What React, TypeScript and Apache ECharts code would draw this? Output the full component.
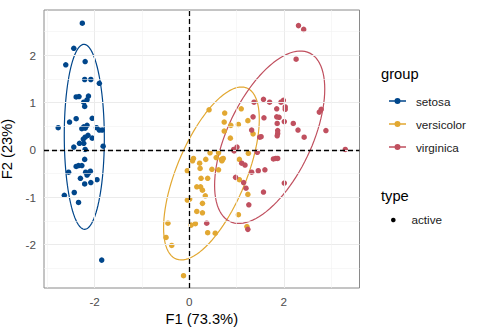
import React, { useEffect, useRef } from "react";
import * as echarts from "echarts";

const groupNames = ["setosa", "versicolor", "virginica"];
const groupColors = ["#00468B", "#E2A832", "#C0505F"];

const setosaPts: number[][] = [
  [-2.26, 2.68], [-2.44, 2.15], [-2.61, 1.8], [-2.2, 1.87], [-2.21, 1.49], [-2.08, 1.49],
  [-1.9, 1.41], [-2.39, 1.12], [-2.33, 1.13], [-2.13, 1.14], [-2.16, 1.06], [-2.23, 1.01],
  [-2.21, 0.92], [-2.53, 0.59], [-2.39, 0.66], [-2.05, 0.67], [-2.77, 0.47], [-2.16, 0.52],
  [-2.23, 0.49], [-2.27, 0.45], [-1.96, 0.47], [-1.9, 0.42], [-1.84, 0.42], [-2.14, 0.31],
  [-2.2, 0.27], [-2.24, 0.23], [-2.05, 0.25], [-2.32, 0.14], [-2.23, 0.14], [-2.44, 0.06],
  [-2.2, 0.01], [-1.82, 0.08], [-2.21, -0.2], [-2.39, -0.35], [-2.34, -0.33], [-2.27, -0.33],
  [-2.55, -0.47], [-2.19, -0.47], [-2.13, -0.49], [-2.09, -0.45], [-2.16, -0.53], [-2.3, -0.6],
  [-2.08, -0.69], [-1.95, -0.63], [-2.21, -0.72], [-2.64, -0.96], [-2.43, -0.9], [-2.34, -1.11],
  [-1.85, -2.33], [-2.2, 0.46],
];

const versicolorPts: number[][] = [
  [0.42, 0.85], [0.75, 0.78], [1.1, 0.87], [0.74, 0.59], [0.88, 0.52], [1.04, 0.54],
  [1.24, 0.62], [0.74, 0.4], [0.87, 0.25], [1.35, 0.34], [0.44, -0.06], [0.62, -0.06],
  [1.25, -0.07], [0.09, -0.18], [0.07, -0.23], [0.22, -0.28], [0.35, -0.2], [0.57, -0.16],
  [0.68, -0.2], [0.72, -0.18], [0.69, -0.23], [1.06, -0.2], [0.23, -0.39], [-0.04, -0.44],
  [0.48, -0.41], [0.62, -0.42], [0.25, -0.6], [0.39, -0.6], [1.06, -0.63], [0.16, -0.78],
  [0.24, -0.78], [0.28, -0.85], [0.34, -0.97], [-0.04, -1.06], [0.01, -1.04], [0.28, -1.13],
  [1.24, -0.94], [0.16, -1.3], [0.28, -1.33], [1.04, -1.37], [-0.45, -1.55], [0.04, -1.59],
  [0.13, -1.56], [0.39, -1.75], [0.55, -1.76], [1.22, -1.62], [-0.49, -1.85], [-0.37, -2.02],
  [-0.12, -2.66], [0.7, -0.21],
];

const virginicaPts: number[][] = [
  [2.31, 2.63], [2.42, 2.55], [2.26, 1.92], [1.37, 1.01], [1.57, 1.07], [1.7, 1.01],
  [1.85, 0.87], [1.94, 1.01], [1.99, 1.05], [2.03, 0.91], [2.03, 0.86], [2.79, 0.86],
  [2.75, 0.8], [1.35, 0.7], [1.58, 0.68], [1.85, 0.7], [1.9, 0.69], [1.86, 0.56],
  [2.01, 0.6], [2.2, 0.56], [1.32, 0.42], [1.87, 0.41], [1.87, 0.35], [1.86, 0.3],
  [2.3, 0.42], [2.89, 0.41], [1.49, 0.27], [1.52, 0.28], [2.43, 0.27], [0.94, 0.01],
  [1.01, 0.06], [0.95, -0.02], [1.44, -0.05], [3.3, 0.01], [1.78, -0.19], [1.83, -0.18],
  [1.87, -0.18], [1.11, -0.28], [1.18, -0.32], [1.32, -0.47], [1.46, -0.44], [1.6, -0.42],
  [0.98, -0.58], [1.15, -0.69], [2.01, -0.7], [1.2, -0.81], [1.57, -0.89], [1.26, -1.16],
  [1.24, -1.68], [0.37, -1.55],
];

const xTicks = [-2, 0, 2];
const yTicks = [-2, -1, 0, 1, 2];
const xMinorGrid = [-3, -1, 1, 3];
const yMinorGrid = [-2.5, -1.5, -0.5, 0.5, 1.5, 2.5];
const xAxisTitle = "F1 (73.3%)";
const yAxisTitle = "F2 (23%)";
const legendTitle = "group";
const typeTitle = "type";
const typeLabel = "active";

// robust multivariate-t covariance (as MASS::cov.trob, nu = 5)
function covTrob(pts: number[][], nu = 5, maxit = 25, tol = 0.01) {
  const n = pts.length;
  const p = 2;
  let loc = [pts.reduce((s, q) => s + q[0], 0) / n, pts.reduce((s, q) => s + q[1], 0) / n];
  let w = pts.map(() => 1);
  let cov = [0, 0, 0];
  for (let it = 0; it < maxit; it++) {
    const w0 = w.slice();
    const X = pts.map((q) => [q[0] - loc[0], q[1] - loc[1]]);
    const sw = w.reduce((s, v) => s + v, 0);
    let a = 0, b = 0, c = 0;
    X.forEach((v, i) => {
      a += (w[i] / sw) * v[0] * v[0];
      b += (w[i] / sw) * v[0] * v[1];
      c += (w[i] / sw) * v[1] * v[1];
    });
    const det = a * c - b * b;
    const ia = c / det, ib = -b / det, ic = a / det;
    w = X.map((v) => {
      const Q = v[0] * v[0] * ia + 2 * v[0] * v[1] * ib + v[1] * v[1] * ic;
      return (nu + p) / (nu + Q);
    });
    const sw2 = w.reduce((s, v) => s + v, 0);
    const newLoc = [
      pts.reduce((s, q, i) => s + w[i] * q[0], 0) / sw2,
      pts.reduce((s, q, i) => s + w[i] * q[1], 0) / sw2,
    ];
    let ca = 0, cb = 0, cc = 0;
    X.forEach((v, i) => {
      ca += w[i] * v[0] * v[0];
      cb += w[i] * v[0] * v[1];
      cc += w[i] * v[1] * v[1];
    });
    cov = [ca / n, cb / n, cc / n];
    const done = w.every((v, i) => Math.abs(v - w0[i]) < tol);
    if (done) break;
    loc = newLoc;
  }
  return { loc, cov };
}

// 95% ellipse as ggplot2 stat_ellipse (type = "t")
function dataEllipse(pts: number[][], level = 0.95, segs = 100): number[][] {
  const n = pts.length;
  const { loc, cov } = covTrob(pts);
  const [a, b, c] = cov;
  const d = n - 1;
  const q = (d / 2) * (Math.pow(1 - level, -2 / d) - 1);
  const r = Math.sqrt(2 * q);
  const u00 = Math.sqrt(a);
  const u01 = b / u00;
  const u11 = Math.sqrt(Math.max(c - u01 * u01, 0));
  const out: number[][] = [];
  for (let i = 0; i <= segs; i++) {
    const t = (i / segs) * 2 * Math.PI;
    const ux = Math.cos(t), uy = Math.sin(t);
    out.push([loc[0] + r * ux * u00, loc[1] + r * (ux * u01 + uy * u11)]);
  }
  return out;
}

const FONT = "'Liberation Sans', Arial, Helvetica, sans-serif";

export default function App() {
  const ref = useRef<HTMLDivElement>(null);
  useEffect(() => {
    if (!ref.current) return;
    const chart = echarts.init(ref.current, undefined, { renderer: "svg" });
    const groups = [setosaPts, versicolorPts, virginicaPts];

    const gridLineSeries: any = {
      type: "line",
      data: [],
      silent: true,
      z: 1,
      markLine: {
        silent: true,
        symbol: "none",
        label: { show: false },
        animation: false,
        data: [
          ...xTicks.map((v) => ({ xAxis: v, lineStyle: { color: "#EBEBEB", width: 1, type: "solid" } })),
          ...yTicks.map((v) => ({ yAxis: v, lineStyle: { color: "#EBEBEB", width: 1, type: "solid" } })),
          ...xMinorGrid.map((v) => ({ xAxis: v, lineStyle: { color: "#F1F1F1", width: 0.6, type: "solid" } })),
          ...yMinorGrid.map((v) => ({ yAxis: v, lineStyle: { color: "#F1F1F1", width: 0.6, type: "solid" } })),
        ],
      },
    };
    const zeroLineSeries: any = {
      type: "line",
      data: [],
      silent: true,
      z: 2,
      markLine: {
        silent: true,
        symbol: "none",
        label: { show: false },
        animation: false,
        lineStyle: { color: "#000000", width: 1.3, type: [5, 3] },
        data: [{ xAxis: 0 }, { yAxis: 0 }],
      },
    };

    const ellipseSeries = groups.map((pts, i) => ({
      name: groupNames[i],
      type: "line",
      data: dataEllipse(pts),
      showSymbol: false,
      symbol: "none",
      silent: true,
      z: 3,
      lineStyle: { color: groupColors[i], width: 1.2 },
      itemStyle: { color: groupColors[i] },
    }));
    const pointSeries = groups.map((pts, i) => ({
      name: groupNames[i],
      type: "scatter",
      data: pts,
      symbol: "circle",
      symbolSize: 5.5,
      z: 4,
      itemStyle: { color: groupColors[i], opacity: 1 },
    }));

    const legendIcon =
      "path://M0,2.3 L17,2.3 L17,3.7 L0,3.7 Z M5.5,3 A3,3 0 1,1 11.5,3 A3,3 0 1,1 5.5,3 Z";

    chart.setOption({
      animation: false,
      backgroundColor: "#FFFFFF",
      textStyle: { fontFamily: FONT },
      grid: {
        left: 44,
        top: 10,
        right: 120.5,
        bottom: 48,
        show: true,
        borderColor: "#8A8A8A",
        borderWidth: 1,
        backgroundColor: "transparent",
        containLabel: false,
        outerBoundsMode: "none",
      },
      xAxis: {
        type: "value",
        min: -3.07,
        max: 3.6,
        name: xAxisTitle,
        nameLocation: "middle",
        nameGap: 22,
        nameTextStyle: { fontSize: 14.7, color: "#000000", fontFamily: FONT },
        axisLine: { show: false },
        axisTick: { show: true, customValues: xTicks, length: 4, lineStyle: { color: "#333333" } },
        axisLabel: { show: true, customValues: xTicks, margin: 7, fontSize: 11.7, color: "#4D4D4D", fontFamily: FONT },
        splitLine: { show: false },
      },
      yAxis: {
        type: "value",
        min: -2.92,
        max: 2.96,
        name: yAxisTitle,
        nameLocation: "middle",
        nameGap: 21,
        nameRotate: 90,
        nameTextStyle: { fontSize: 14.7, color: "#000000", fontFamily: FONT },
        axisLine: { show: false },
        axisTick: { show: true, customValues: yTicks, length: 4, lineStyle: { color: "#333333" } },
        axisLabel: { show: true, customValues: yTicks, margin: 8, fontSize: 11.7, color: "#4D4D4D", fontFamily: FONT },
        splitLine: { show: false },
      },
      legend: {
        show: true,
        orient: "vertical",
        left: 384,
        top: 89,
        itemWidth: 17,
        itemHeight: 6,
        itemGap: 9,
        icon: legendIcon,
        data: groupNames.map((n, i) => ({ name: n, icon: legendIcon, itemStyle: { color: groupColors[i] } })),
        textStyle: { fontSize: 11.7, lineHeight: 14, color: "#1A1A1A", fontFamily: FONT, padding: [0, 0, 0, 5] },
        selectedMode: false,
      },
      graphic: [
        {
          type: "text",
          left: 381,
          top: 66,
          style: { text: legendTitle, fontSize: 14.7, fill: "#000000", fontFamily: FONT },
        },
        {
          type: "text",
          left: 381,
          top: 188,
          style: { text: typeTitle, fontSize: 14.7, fill: "#000000", fontFamily: FONT },
        },
        {
          type: "circle",
          shape: { cx: 393.3, cy: 220, r: 2.3 },
          style: { fill: "#000000" },
        },
        {
          type: "text",
          left: 411.5,
          top: 213.5,
          style: { text: typeLabel, fontSize: 11.7, fill: "#1A1A1A", fontFamily: FONT },
        },
      ],
      series: [gridLineSeries, zeroLineSeries, ...ellipseSeries, ...pointSeries],
    });
    return () => chart.dispose();
  }, []);
  return (
    <div
      ref={ref}
      style={{ position: "fixed", left: 0, top: 0, width: 480, height: 336, background: "#fff" }}
    />
  );
}
